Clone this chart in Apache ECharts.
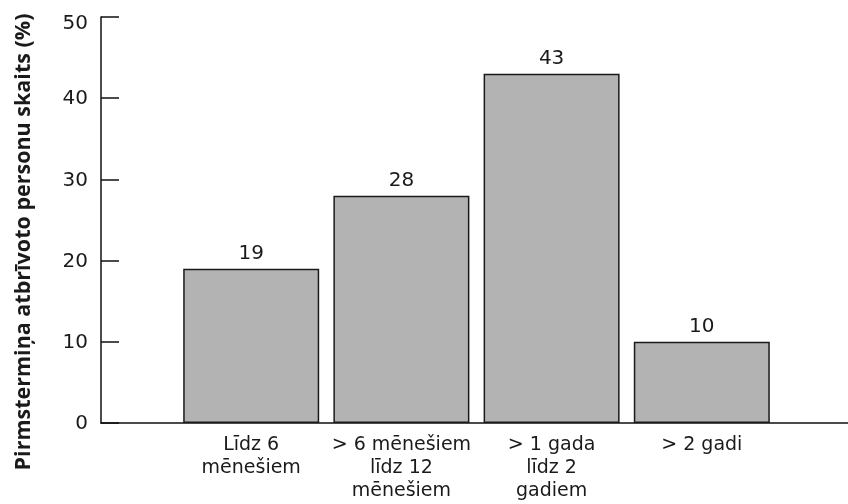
<!DOCTYPE html>
<html>
<head>
<meta charset="utf-8">
<script src="https://cdn.jsdelivr.net/npm/echarts@6/dist/echarts.min.js"></script>
<style>
html,body{margin:0;padding:0;background:#fff;}
#chart{width:848px;height:504px;}
</style>
</head>
<body>
<div id="chart"></div>
<script>
const categories = ['Līdz 6\nmēnešiem', '> 6 mēnešiem\nlīdz 12\nmēnešiem', '> 1 gada\nlīdz 2\ngadiem', '> 2 gadi'];
const values = [19, 28, 43, 10];
const yTicks = [0, 10, 20, 30, 40, 50];
const yTitle = 'Pirmstermiņa atbrīvoto personu skaits (%)';

const axisCats = [''].concat(categories, ['']);
const axisVals = ['-'].concat(values, ['-']);
const yMax = yTicks[yTicks.length - 1];

const FONT = 'DejaVu Sans';
const TITLE_FONT = 'Open Sans';
const chart = echarts.init(document.getElementById('chart'));
chart.setOption({
  animation: false,
  backgroundColor: '#ffffff',
  textStyle: { fontFamily: FONT },
  grid: { left: 101, top: 17, width: 751, height: 406, containLabel: false, outerBoundsMode: 'none' },
  xAxis: {
    type: 'category',
    data: axisCats,
    boundaryGap: false,
    axisLine: { lineStyle: { color: '#111', width: 1.5 } },
    axisTick: { show: false },
    axisLabel: { color: '#1a1a1a', fontSize: 19, lineHeight: 23, margin: 11, fontFamily: FONT, interval: 0 },
    splitLine: { show: false }
  },
  yAxis: {
    type: 'value',
    min: yTicks[0],
    max: yMax,
    interval: 10,
    name: yTitle,
    nameLocation: 'middle',
    nameGap: 66,
    nameTextStyle: { color: '#1a1a1a', fontSize: 21.5, fontWeight: 'bold', fontFamily: TITLE_FONT, padding: [0, 44, 0, 0] },
    axisLine: { show: true, lineStyle: { color: '#111', width: 1.5 } },
    axisTick: { show: true, inside: true, length: 18, lineStyle: { color: '#111', width: 1.5 } },
    axisLabel: {
      color: '#1a1a1a', fontSize: 20, margin: 13, fontFamily: FONT,
      formatter: function (v) { return v === yMax ? '{top|' + v + '}' : '{n|' + v + '}'; },
      rich: {
        top: { fontSize: 20, fontFamily: FONT, color: '#1a1a1a', padding: [14, 0, 0, 0] },
        n: { fontSize: 20, fontFamily: FONT, color: '#1a1a1a', padding: [2, 0, 0, 0] }
      }
    },
    splitLine: { show: false }
  },
  series: [{
    type: 'bar',
    data: axisVals,
    barWidth: 136,
    itemStyle: { color: '#b3b3b3', borderColor: '#1a1a1a', borderWidth: 1.5 },
    label: { show: true, position: 'top', distance: 5, color: '#1a1a1a', fontSize: 20, fontFamily: FONT }
  }]
});
</script>
</body>
</html>
